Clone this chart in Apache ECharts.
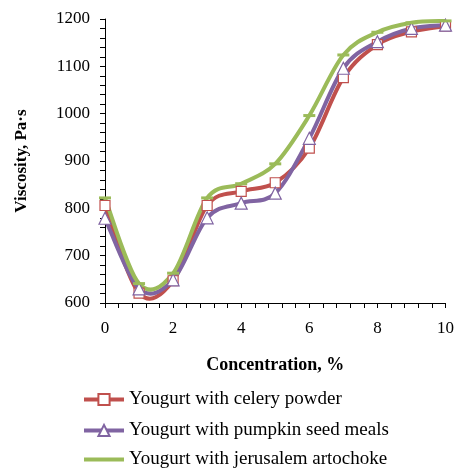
<!DOCTYPE html>
<html>
<head>
<meta charset="utf-8">
<script src="https://cdn.jsdelivr.net/npm/echarts@6/dist/echarts.min.js"></script>
<style>html,body{margin:0;padding:0;background:#fff}#c{width:457px;height:468px}</style>
</head>
<body>
<div id="c"></div>
<script>
var concentration = [0, 1, 2, 3, 4, 5, 6, 7, 8, 9, 10];
var celery = [806, 621, 647, 806, 836, 854, 927, 1076, 1146, 1173, 1185];
var pumpkin = [779, 630, 649, 780, 811, 832, 948, 1096, 1152, 1180, 1187];
var artichoke = [822, 641, 663, 822, 852, 894, 996, 1124, 1172, 1192, 1196];
var seriesNames = ['Yougurt with celery powder', 'Yougurt with pumpkin seed meals', 'Yougurt with jerusalem artochoke'];
var xTitle = 'Concentration, %';
var yTitle = 'Viscosity, Pa·s';

var colors = ['#C0504D', '#8064A2', '#9BBB59'];
var font = 'Liberation Serif';
function pairs(v){ return concentration.map(function(x,i){ return [x, v[i]]; }); }

// smoothed curve (Catmull-Rom style Bezier, like spreadsheet smoothed lines) drawn via the axes' scales
function curveSeries(values, color, z) {
  return {
    type: 'custom', coordinateSystem: 'cartesian2d', z: z, silent: true,
    data: pairs(values), encode: {x: 0, y: 1},
    renderItem: function(params, api) {
      if (params.dataIndex !== 0) return;
      var p = values.map(function(v, i){ return api.coord([concentration[i], v]); });
      var n = p.length;
      var d = 'M' + p[0][0] + ' ' + p[0][1];
      for (var i = 0; i < n - 1; i++) {
        var p0 = p[Math.max(i - 1, 0)], p1 = p[i], p2 = p[i + 1], p3 = p[Math.min(i + 2, n - 1)];
        var c1x = p1[0] + (p2[0] - p0[0]) / 6, c1y = p1[1] + (p2[1] - p0[1]) / 6;
        var c2x = p2[0] - (p3[0] - p1[0]) / 6, c2y = p2[1] - (p3[1] - p1[1]) / 6;
        d += ' C' + c1x + ' ' + c1y + ' ' + c2x + ' ' + c2y + ' ' + p2[0] + ' ' + p2[1];
      }
      return {type: 'path', shape: {pathData: d},
        style: {fill: 'none', stroke: color, lineWidth: 4, lineJoin: 'round', lineCap: 'butt'}};
    }
  };
}

var legendTops = [390, 421, 450];
var legends = seriesNames.map(function(n, i){
  var item = {name: n, lineStyle: {color: colors[i], width: 4, opacity: 1}};
  if (i === 2) item.itemStyle = {opacity: 0};
  return {
    orient: 'vertical', left: 82, top: legendTops[i], padding: 0, itemWidth: 40, itemHeight: 14,
    textStyle: {fontFamily: font, fontSize: 19, color: '#000'},
    data: [item]
  };
});
var chart = echarts.init(document.getElementById('c'));
chart.setOption({
  animation: false,
  grid: {left: 105, right: 10, top: 19, bottom: 165},
  legend: legends,
  xAxis: {
    type: 'value', min: 0, max: 10, interval: 2,
    name: xTitle, nameLocation: 'middle', nameGap: 53,
    nameTextStyle: {fontFamily: font, fontSize: 18, fontWeight: 'bold', color: '#000'},
    axisLine: {lineStyle: {color: '#000', width: 1}},
    axisTick: {show: true, length: 5, lineStyle: {color: '#000'}},
    minorTick: {show: true, splitNumber: 5, length: 5, lineStyle: {color: '#000'}},
    axisLabel: {fontFamily: font, fontSize: 17, color: '#000', margin: 17},
    splitLine: {show: false}
  },
  yAxis: {
    type: 'value', min: 600, max: 1200, interval: 100,
    name: yTitle, nameLocation: 'middle', nameGap: 75,
    nameTextStyle: {fontFamily: font, fontSize: 17, fontWeight: 'bold', color: '#000'},
    axisLine: {show: true, lineStyle: {color: '#000', width: 1}},
    axisTick: {show: true, length: 5, lineStyle: {color: '#000'}},
    minorTick: {show: true, splitNumber: 5, length: 5, lineStyle: {color: '#000'}},
    axisLabel: {fontFamily: font, fontSize: 17, color: '#000', margin: 15,
      formatter: function(v){ return String(v); }},
    splitLine: {show: false}
  },
  series: [
    curveSeries(celery, colors[0], 2),
    {name: seriesNames[0], type: 'line', data: pairs(celery), z: 3,
     lineStyle: {color: colors[0], width: 4, opacity: 0}, symbol: 'rect', symbolSize: 10,
     itemStyle: {color: '#fff', borderColor: colors[0], borderWidth: 1.2}},
    curveSeries(pumpkin, colors[1], 2),
    {name: seriesNames[1], type: 'line', data: pairs(pumpkin), z: 3,
     lineStyle: {color: colors[1], width: 4, opacity: 0}, symbol: 'triangle', symbolSize: 12,
     itemStyle: {color: '#fff', borderColor: colors[1], borderWidth: 1.2}},
    curveSeries(artichoke, colors[2], 2),
    {name: seriesNames[2], type: 'line', data: pairs(artichoke), z: 3,
     lineStyle: {color: colors[2], width: 4, opacity: 0}, symbol: 'rect', symbolSize: [12, 3],
     itemStyle: {color: colors[2], borderColor: colors[2], borderWidth: 0}}
  ]
});
</script>
</body>
</html>
